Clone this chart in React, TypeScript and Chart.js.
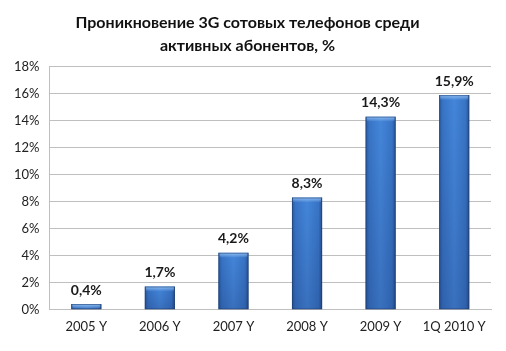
import React, { useEffect, useRef } from "react";
import { Chart, registerables } from "chart.js";

Chart.register(...registerables);

const titleLines = ["Проникновение 3G сотовых телефонов среди", "активных абонентов, %"];
const categories = ["2005 Y", "2006 Y", "2007 Y", "2008 Y", "2009 Y", "1Q 2010 Y"];
const values = [0.4, 1.7, 4.2, 8.3, 14.3, 15.9];
const valueLabels = ["0,4%", "1,7%", "4,2%", "8,3%", "14,3%", "15,9%"];
const yMin = 0;
const yMax = 18;
const yStep = 2;

const FONT = "Lato, 'Open Sans', sans-serif";
const BAR_PCT = 0.41;

const barFill = (context: any) => {
  const chart = context.chart;
  const xs = chart.scales && chart.scales.x;
  if (!xs || context.dataIndex === undefined) return "#3a78cc";
  const cx = xs.getPixelForValue(context.dataIndex);
  const w = ((xs.right - xs.left) / categories.length) * BAR_PCT;
  const left = cx - w / 2;
  const right = cx + w / 2;
  if (!isFinite(left) || !isFinite(right) || right <= left) return "#3a78cc";
  const g = chart.ctx.createLinearGradient(left, 0, right, 0);
  g.addColorStop(0, "#2a5a9e");
  g.addColorStop(0.12, "#3874c6");
  g.addColorStop(0.5, "#4486da");
  g.addColorStop(0.88, "#3874c6");
  g.addColorStop(1, "#27518f");
  return g;
};

const labelPlugin = {
  id: "barLabels",
  afterDatasetsDraw(chart: any) {
    const ctx = chart.ctx;
    const meta = chart.getDatasetMeta(0);
    const ys = chart.scales.y;
    ctx.save();
    meta.data.forEach((el: any) => {
      const left = el.x - el.width / 2;
      const bottom = ys.getPixelForValue(0);
      const h = bottom - el.y;
      // vertical darkening toward the bottom
      const v = ctx.createLinearGradient(0, el.y, 0, bottom);
      v.addColorStop(0, "rgba(0,0,40,0)");
      v.addColorStop(1, "rgba(0,0,40,0.16)");
      ctx.fillStyle = v;
      ctx.fillRect(left, el.y, el.width, h);
      // top highlight
      const g = ctx.createLinearGradient(0, el.y, 0, el.y + 5);
      g.addColorStop(0, "rgba(150,195,245,0.9)");
      g.addColorStop(1, "rgba(150,195,245,0)");
      ctx.fillStyle = g;
      ctx.fillRect(left + 1, el.y, el.width - 2, Math.min(5, h));
      // thin darker outline
      ctx.strokeStyle = "rgba(30,60,110,0.55)";
      ctx.lineWidth = 1;
      ctx.strokeRect(left + 0.5, el.y + 0.5, el.width - 1, h - 1);
    });
    ctx.fillStyle = "#1a1a1a";
    ctx.font = `bold 14px ${FONT}`;
    ctx.textAlign = "center";
    ctx.textBaseline = "bottom";
    meta.data.forEach((el: any, i: number) => {
      ctx.fillText(valueLabels[i], el.x, el.y - 7);
    });
    ctx.restore();
  },
};

export default function App() {
  const ref = useRef<HTMLCanvasElement>(null);
  useEffect(() => {
    const chart = new Chart(ref.current as HTMLCanvasElement, {
      type: "bar",
      data: {
        labels: categories,
        datasets: [
          {
            data: values,
            backgroundColor: barFill,
            borderWidth: 0,
            barPercentage: BAR_PCT,
            categoryPercentage: 1,
          },
        ],
      },
      options: {
        animation: false,
        responsive: false,
        layout: { padding: { left: 4, right: 15, top: 0, bottom: 6 } },
        plugins: {
          legend: { display: false },
          tooltip: { enabled: false },
          title: {
            display: true,
            text: titleLines,
            color: "#111",
            font: { family: FONT, size: 16, weight: "bold", lineHeight: 1.4 },
            padding: { top: 12, bottom: 10 },
          },
        },
        scales: {
          x: {
            grid: { display: false, drawTicks: false },
            border: { display: true, color: "#bfbfbf" },
            ticks: { color: "#222", font: { family: FONT, size: 13 }, padding: 10 },
          },
          y: {
            min: yMin,
            max: yMax,
            grid: { color: "#bfbfbf", drawTicks: false },
            border: { display: true, color: "#bfbfbf" },
            ticks: {
              stepSize: yStep,
              color: "#222",
              padding: 10,
              font: { family: FONT, size: 13 },
              callback: (v: any) => `${v}%`,
            },
          },
        },
      },
      plugins: [labelPlugin],
    });
    return () => chart.destroy();
  }, []);
  return (
    <div style={{ position: "fixed", left: 0, top: 0, width: 506, height: 351, background: "#fff" }}>
      <canvas ref={ref} width={506} height={351} />
    </div>
  );
}
